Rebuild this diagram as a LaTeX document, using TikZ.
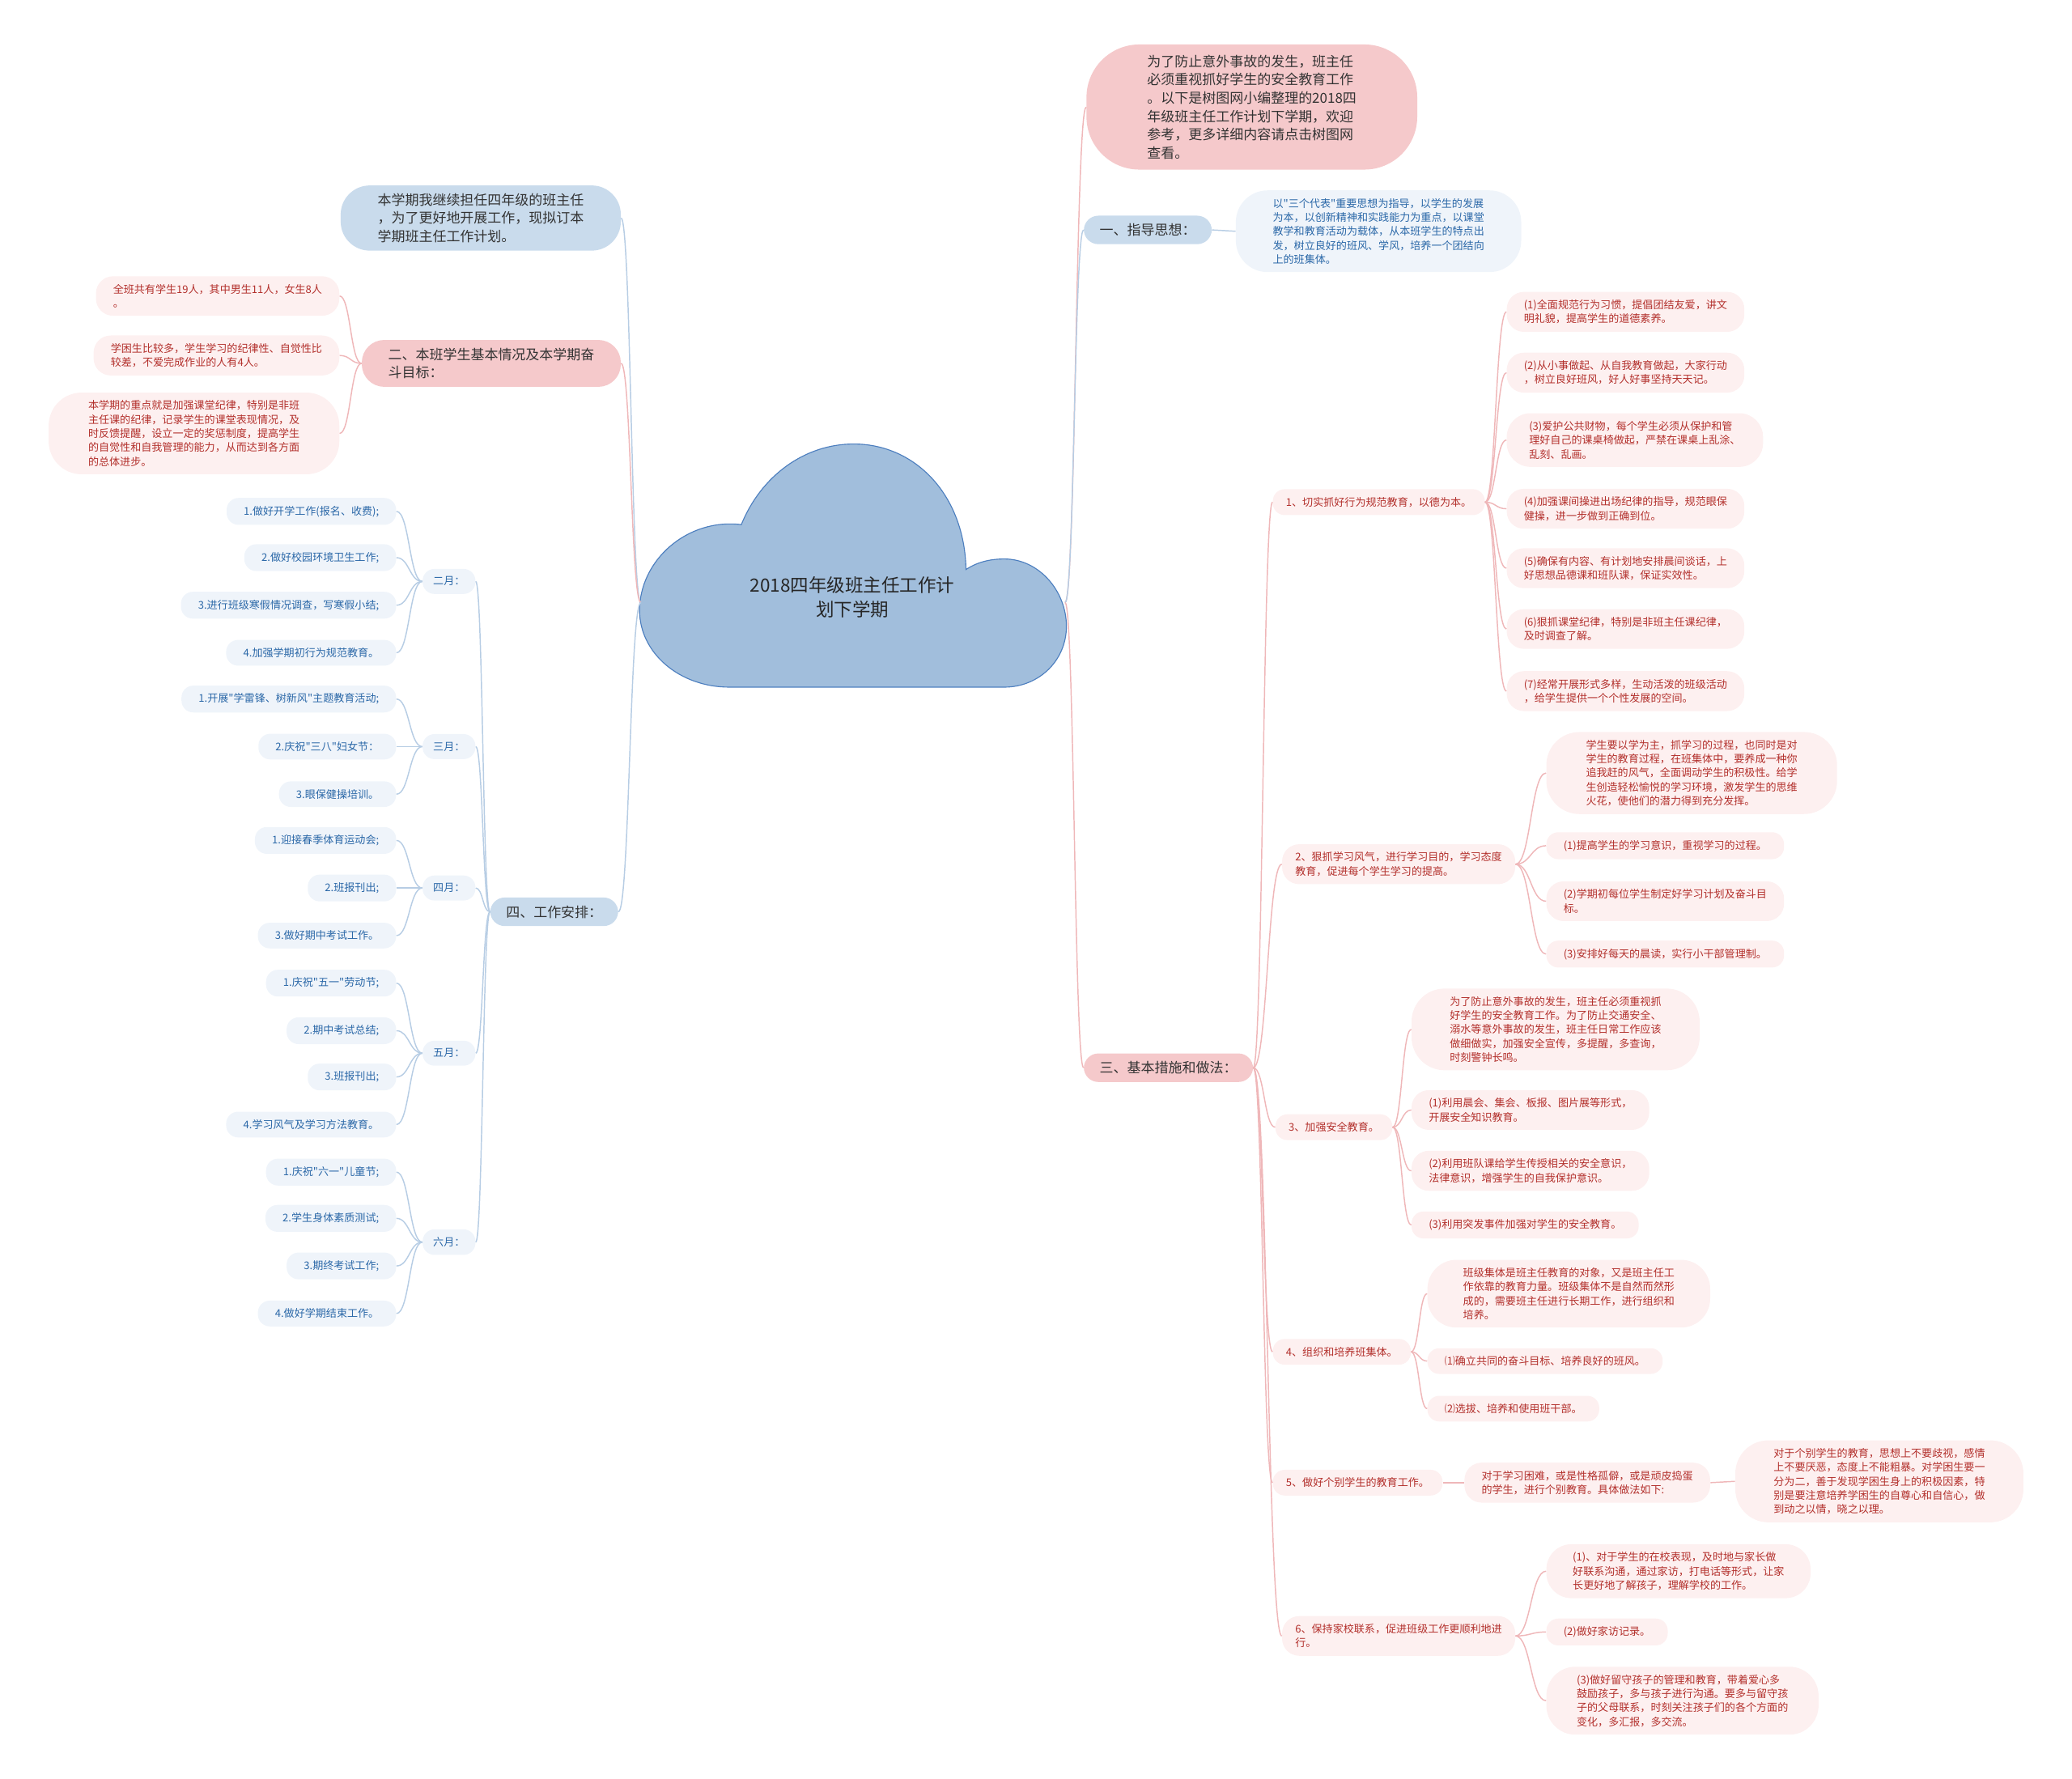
\documentclass[tikz,border=0pt]{standalone}
\usepackage{fontspec}
\setmainfont{Noto Sans CJK SC}
\newfontfamily\quotefont{Noto Sans CJK SC}
\usetikzlibrary{calc}
\definecolor{mpink}{HTML}{F5C9CB}
\definecolor{mblue}{HTML}{C9DBEC}
\definecolor{lpink}{HTML}{FDF0F0}
\definecolor{lblue}{HTML}{EFF4FA}
\definecolor{tred}{HTML}{B3302C}
\definecolor{tblue}{HTML}{2B68A8}
\definecolor{wpink}{HTML}{EFB7B9}
\definecolor{wblue}{HTML}{B7CDE4}
\definecolor{cloudfill}{HTML}{A1BEDC}
\definecolor{cloudline}{HTML}{4D7FBF}
\tikzset{
  mainbox/.style={rounded corners=11pt, inner xsep=14pt, inner ysep=6pt, align=left,
    font=\fontsize{10.4pt}{13.8pt}\selectfont, text=black!80},
  pinkmain/.style={mainbox, fill=mpink},
  bluemain/.style={mainbox, fill=mblue},
  subbox/.style={rounded corners=9pt, inner xsep=13pt, inner ysep=6pt, align=left,
    font=\fontsize{8pt}{10.6pt}\selectfont},
  redsub/.style={subbox, fill=lpink, text=tred},
  bluesub/.style={subbox, fill=lblue, text=tblue},
  redlink/.style={wpink, line width=0.9pt},
  bluelink/.style={wblue, line width=0.9pt},
}
\newcommand{\branchline}[3]{%
  \draw[#1] (#2) .. controls ($(#2)!0.5!(#3 |- #2)$) and ($(#3)!0.5!(#2 |- #3)$) .. (#3);}
\newcommand{\qm}{{\quotefont\symbol{34}}}

\begin{document}
\begin{tikzpicture}[x=1pt, y=-1pt]
  \useasboundingbox (0,0) rectangle (1568,1346);

  %% central cloud
  \draw[cloudline, fill=cloudfill, line width=0.7pt]
    (484,462) .. controls (484,424) and (520,392) .. (561,397)
    .. controls (576,360) and (609,336) .. (646,336)
    .. controls (693,336) and (730,375) .. (731,431)
    .. controls (740,425) and (750,423) .. (760,423)
    .. controls (786,423) and (807,447) .. (807,474)
    .. controls (807,500) and (786,520) .. (760,520)
    -- (552,520)
    .. controls (514,520) and (484,494) .. (484,462) -- cycle;
  \node[font=\fontsize{13.8pt}{18pt}\selectfont, align=center, text=black!85] (root) at (645,452)
    {2018四年级班主任工作计\\划下学期};
  \coordinate (rootE) at (806,456);
  \coordinate (rootW) at (485,456);

  %% right: intro note and part one
  \node[pinkmain, rounded corners=40pt, inner xsep=46pt, inner ysep=8pt, anchor=west] (note) at (822,81)
    {为了防止意外事故的发生，班主任\\必须重视抓好学生的安全教育工作\\。以下是树图网小编整理的2018四\\年级班主任工作计划下学期，欢迎\\参考，更多详细内容请点击树图网\\查看。};
  \node[bluemain, inner xsep=12pt, anchor=west] (guide) at (820,174) {一、指导思想：};
  \node[bluesub, rounded corners=24pt, inner xsep=28pt, anchor=west] (guidetxt) at (935,175)
    {以\qm 三个代表\qm 重要思想为指导，以学生的发展\\为本，以创新精神和实践能力为重点，以课堂\\教学和教育活动为载体，从本班学生的特点出\\发，树立良好的班风、学风，培养一个团结向\\上的班集体。};

  %% right: part three
  \node[pinkmain, inner xsep=12pt, anchor=west] (measure) at (820,808) {三、基本措施和做法：};

  \node[redsub, inner xsep=10pt, anchor=west] (m1) at (963,380) {1、切实抓好行为规范教育，以德为本。};
  \node[redsub, rounded corners=13pt, anchor=west] (m1a) at (1140,236) {(1)全面规范行为习惯，提倡团结友爱，讲文\\明礼貌，提高学生的道德素养。};
  \node[redsub, rounded corners=13pt, anchor=west] (m1b) at (1140,282) {(2)从小事做起、从自我教育做起，大家行动\\，树立良好班风，好人好事坚持天天记。};
  \node[redsub, rounded corners=18pt, inner xsep=17pt, anchor=west] (m1c) at (1140,333) {(3)爱护公共财物，每个学生必须从保护和管\\理好自己的课桌椅做起，严禁在课桌上乱涂、\\乱刻、乱画。};
  \node[redsub, rounded corners=13pt, anchor=west] (m1d) at (1140,385) {(4)加强课间操进出场纪律的指导，规范眼保\\健操，进一步做到正确到位。};
  \node[redsub, rounded corners=13pt, anchor=west] (m1e) at (1140,430) {(5)确保有内容、有计划地安排晨间谈话，上\\好思想品德课和班队课，保证实效性。};
  \node[redsub, rounded corners=13pt, anchor=west] (m1f) at (1140,476) {(6)狠抓课堂纪律，特别是非班主任课纪律，\\及时调查了解。};
  \node[redsub, rounded corners=13pt, anchor=west] (m1g) at (1140,523) {(7)经常开展形式多样，生动活泼的班级活动\\，给学生提供一个个性发展的空间。};

  \node[redsub, rounded corners=13pt, inner xsep=10pt, anchor=west] (m2) at (970,654) {2、狠抓学习风气，进行学习目的，学习态度\\教育，促进每个学生学习的提高。};
  \node[redsub, rounded corners=25pt, inner xsep=30pt, anchor=west] (m2a) at (1170,585) {学生要以学为主，抓学习的过程，也同时是对\\学生的教育过程，在班集体中，要养成一种你\\追我赶的风气，全面调动学生的积极性。给学\\生创造轻松愉悦的学习环境，激发学生的思维\\火花，使他们的潜力得到充分发挥。};
  \node[redsub, anchor=west] (m2b) at (1170,640) {(1)提高学生的学习意识，重视学习的过程。};
  \node[redsub, rounded corners=13pt, anchor=west] (m2c) at (1170,682) {(2)学期初每位学生制定好学习计划及奋斗目\\标。};
  \node[redsub, anchor=west] (m2d) at (1170,722) {(3)安排好每天的晨读，实行小干部管理制。};

  \node[redsub, inner xsep=10pt, anchor=west] (m3) at (965,853) {3、加强安全教育。};
  \node[redsub, rounded corners=25pt, inner xsep=29pt, anchor=west] (m3a) at (1068,779) {为了防止意外事故的发生，班主任必须重视抓\\好学生的安全教育工作。为了防止交通安全、\\溺水等意外事故的发生，班主任日常工作应该\\做细做实，加强安全宣传，多提醒，多查询，\\时刻警钟长鸣。};
  \node[redsub, rounded corners=13pt, anchor=west] (m3b) at (1068,840) {(1)利用晨会、集会、板报、图片展等形式，\\开展安全知识教育。};
  \node[redsub, rounded corners=13pt, anchor=west] (m3c) at (1068,886) {(2)利用班队课给学生传授相关的安全意识，\\法律意识，增强学生的自我保护意识。};
  \node[redsub, anchor=west] (m3d) at (1068,927) {(3)利用突发事件加强对学生的安全教育。};

  \node[redsub, inner xsep=10pt, anchor=west] (m4) at (963,1023) {4、组织和培养班集体。};
  \node[redsub, rounded corners=22pt, inner xsep=27pt, anchor=west] (m4a) at (1080,979) {班级集体是班主任教育的对象，又是班主任工\\作依靠的教育力量。班级集体不是自然而然形\\成的，需要班主任进行长期工作，进行组织和\\培养。};
  \node[redsub, anchor=west] (m4b) at (1080,1030) {⑴确立共同的奋斗目标、培养良好的班风。};
  \node[redsub, anchor=west] (m4c) at (1080,1066) {⑵选拔、培养和使用班干部。};

  \node[redsub, inner xsep=10pt, anchor=west] (m5) at (963,1122) {5、做好个别学生的教育工作。};
  \node[redsub, rounded corners=13pt, anchor=west] (m5a) at (1108,1122) {对于学习困难，或是性格孤僻，或是顽皮捣蛋\\的学生，进行个别教育。具体做法如下:};
  \node[redsub, rounded corners=25pt, inner xsep=29pt, anchor=west] (m5b) at (1313,1121) {对于个别学生的教育，思想上不要歧视，感情\\上不要厌恶，态度上不能粗暴。对学困生要一\\分为二，善于发现学困生身上的积极因素，特\\别是要注意培养学困生的自尊心和自信心，做\\到动之以情，晓之以理。};

  \node[redsub, rounded corners=13pt, inner xsep=10pt, anchor=west] (m6) at (970,1238) {6、保持家校联系，促进班级工作更顺利地进\\行。};
  \node[redsub, rounded corners=19pt, inner xsep=20pt, anchor=west] (m6a) at (1170,1189) {(1)、对于学生的在校表现，及时地与家长做\\好联系沟通，通过家访，打电话等形式，让家\\长更好地了解孩子，理解学校的工作。};
  \node[redsub, anchor=west] (m6b) at (1170,1235) {(2)做好家访记录。};
  \node[redsub, rounded corners=22pt, inner xsep=23pt, anchor=west] (m6c) at (1170,1287) {(3)做好留守孩子的管理和教育，带着爱心多\\鼓励孩子，多与孩子进行沟通。要多与留守孩\\子的父母联系，时刻关注孩子们的各个方面的\\变化，多汇报，多交流。};

  %% left: intro and part two
  \node[bluemain, rounded corners=22pt, inner xsep=28pt, anchor=east] (intro) at (470,165)
    {本学期我继续担任四年级的班主任\\，为了更好地开展工作，现拟订本\\学期班主任工作计划。};
  \node[pinkmain, rounded corners=17pt, inner xsep=20pt, anchor=east] (goal) at (470,275)
    {二、本班学生基本情况及本学期奋\\斗目标：};
  \node[redsub, rounded corners=13pt, anchor=east] (goal1) at (257,224) {全班共有学生19人，其中男生11人，女生8人\\。};
  \node[redsub, rounded corners=13pt, anchor=east] (goal2) at (257,269) {学困生比较多，学生学习的纪律性、自觉性比\\较差，不爱完成作业的人有4人。};
  \node[redsub, rounded corners=25pt, inner xsep=30pt, anchor=east] (goal3) at (257,328) {本学期的重点就是加强课堂纪律，特别是非班\\主任课的纪律，记录学生的课堂表现情况，及\\时反馈提醒，设立一定的奖惩制度，提高学生\\的自觉性和自我管理的能力，从而达到各方面\\的总体进步。};

  %% left: part four, months
  \node[bluemain, inner xsep=12pt, anchor=east] (plan) at (468,690) {四、工作安排：};
  \node[bluesub, inner xsep=8pt, anchor=east] (feb) at (360,440) {二月：};
  \node[bluesub, inner xsep=8pt, anchor=east] (mar) at (360,565) {三月：};
  \node[bluesub, inner xsep=8pt, anchor=east] (apr) at (360,672) {四月：};
  \node[bluesub, inner xsep=8pt, anchor=east] (may) at (360,797) {五月：};
  \node[bluesub, inner xsep=8pt, anchor=east] (jun) at (360,940) {六月：};

  \node[bluesub, anchor=east] (feb1) at (300,387) {1.做好开学工作(报名、收费);};
  \node[bluesub, anchor=east] (feb2) at (300,422) {2.做好校园环境卫生工作;};
  \node[bluesub, anchor=east] (feb3) at (300,458) {3.进行班级寒假情况调查，写寒假小结;};
  \node[bluesub, anchor=east] (feb4) at (300,494) {4.加强学期初行为规范教育。};
  \node[bluesub, anchor=east] (mar1) at (300,529) {1.开展\qm 学雷锋、树新风\qm 主题教育活动;};
  \node[bluesub, anchor=east] (mar2) at (300,565) {2.庆祝\qm 三八\qm 妇女节：};
  \node[bluesub, anchor=east] (mar3) at (300,601) {3.眼保健操培训。};
  \node[bluesub, anchor=east] (apr1) at (300,636) {1.迎接春季体育运动会;};
  \node[bluesub, anchor=east] (apr2) at (300,672) {2.班报刊出;};
  \node[bluesub, anchor=east] (apr3) at (300,708) {3.做好期中考试工作。};
  \node[bluesub, anchor=east] (may1) at (300,744) {1.庆祝\qm 五一\qm 劳动节;};
  \node[bluesub, anchor=east] (may2) at (300,780) {2.期中考试总结;};
  \node[bluesub, anchor=east] (may3) at (300,815) {3.班报刊出;};
  \node[bluesub, anchor=east] (may4) at (300,851) {4.学习风气及学习方法教育。};
  \node[bluesub, anchor=east] (jun1) at (300,887) {1.庆祝\qm 六一\qm 儿童节;};
  \node[bluesub, anchor=east] (jun2) at (300,922) {2.学生身体素质测试;};
  \node[bluesub, anchor=east] (jun3) at (300,958) {3.期终考试工作;};
  \node[bluesub, anchor=east] (jun4) at (300,994) {4.做好学期结束工作。};

  %% connectors
  \branchline{redlink}{rootE}{note.west}
  \branchline{bluelink}{rootE}{guide.west}
  \branchline{redlink}{rootE}{measure.west}
  \branchline{bluelink}{guide.east}{guidetxt.west}
  \foreach \s in {m1,m2,m3,m4,m5,m6}
    \branchline{redlink}{measure.east}{\s.west};
  \foreach \c in {m1a,m1b,m1c,m1d,m1e,m1f,m1g}
    \branchline{redlink}{m1.east}{\c.west};
  \foreach \c in {m2a,m2b,m2c,m2d}
    \branchline{redlink}{m2.east}{\c.west};
  \foreach \c in {m3a,m3b,m3c,m3d}
    \branchline{redlink}{m3.east}{\c.west};
  \foreach \c in {m4a,m4b,m4c}
    \branchline{redlink}{m4.east}{\c.west};
  \branchline{redlink}{m5.east}{m5a.west}
  \branchline{redlink}{m5a.east}{m5b.west}
  \foreach \c in {m6a,m6b,m6c}
    \branchline{redlink}{m6.east}{\c.west};

  \branchline{bluelink}{rootW}{intro.east}
  \branchline{redlink}{rootW}{goal.east}
  \branchline{bluelink}{rootW}{plan.east}
  \foreach \c in {goal1,goal2,goal3}
    \branchline{redlink}{goal.west}{\c.east};
  \foreach \m in {feb,mar,apr,may,jun}
    \branchline{bluelink}{plan.west}{\m.east};
  \foreach \c in {feb1,feb2,feb3,feb4}
    \branchline{bluelink}{feb.west}{\c.east};
  \foreach \c in {mar1,mar2,mar3}
    \branchline{bluelink}{mar.west}{\c.east};
  \foreach \c in {apr1,apr2,apr3}
    \branchline{bluelink}{apr.west}{\c.east};
  \foreach \c in {may1,may2,may3,may4}
    \branchline{bluelink}{may.west}{\c.east};
  \foreach \c in {jun1,jun2,jun3,jun4}
    \branchline{bluelink}{jun.west}{\c.east};
\end{tikzpicture}
\end{document}
